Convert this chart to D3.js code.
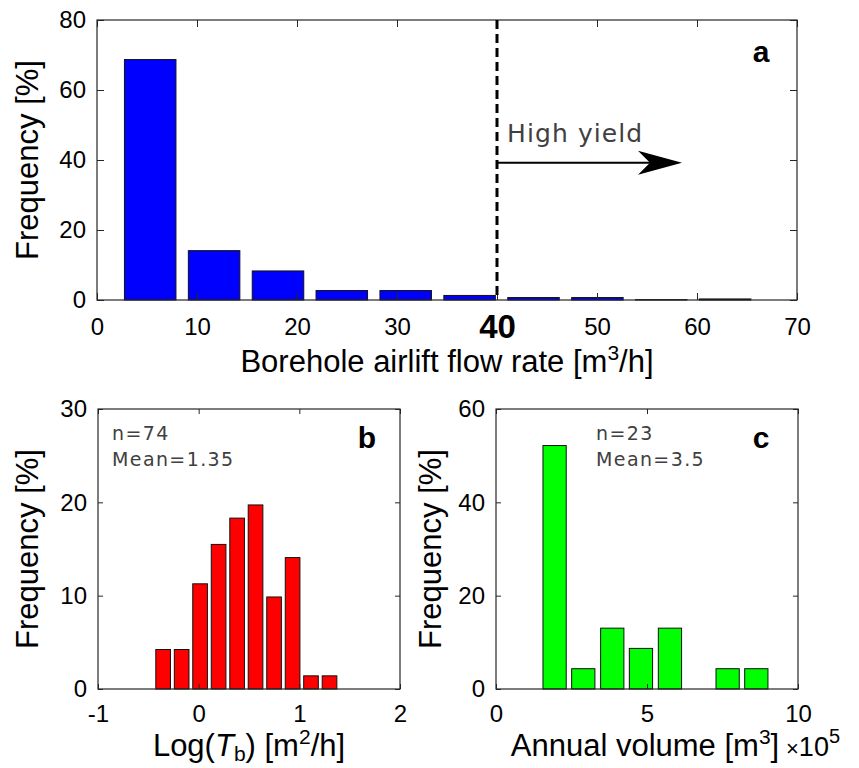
<!DOCTYPE html>
<html>
<head>
<meta charset="utf-8">
<script src="https://cdn.jsdelivr.net/npm/d3@7"></script>
<style>
  body { margin: 0; background: #fff; }
  svg text { font-family: "Liberation Sans", Arial, Helvetica, sans-serif; }
  .note { font-family: "DejaVu Sans", Verdana, sans-serif !important; fill: #404040; }
</style>
</head>
<body>
<svg id="fig" width="859" height="768"></svg>
<script>
// ---- Panel a: borehole airlift flow rate (m3/h) ----
const flowBinCenters = [5.32, 11.71, 18.10, 24.48, 30.87, 37.26, 43.65, 50.04, 56.42, 62.81];
const flowFreq = [68.7, 14.1, 8.3, 2.7, 2.7, 1.3, 0.7, 0.7, 0.1, 0.3];
const flowBarWidth = 5.15;
const flowTicksX = [0, 10, 20, 30, 40, 50, 60, 70];
const flowTicksY = [0, 20, 40, 60, 80];
const highYieldThreshold = 40;
const highYieldArrowEnd = 58.5;
const highYieldArrowLevel = 39.2;
const highYieldLabel = "High yield";

// ---- Panel b: log transmissivity (m2/h) ----
const logTbBinCenters = [-0.353, -0.169, 0.014, 0.198, 0.382, 0.565, 0.749, 0.933, 1.116, 1.300];
const logTbFreq = [4.23, 4.23, 11.27, 15.49, 18.31, 19.72, 9.86, 14.08, 1.41, 1.41];
const logTbBarWidth = 0.1455;
const logTbTicksX = [-1, 0, 1, 2];
const logTbTicksY = [0, 10, 20, 30];
const logTbStats = ["n=74", "Mean=1.35"];

// ---- Panel c: annual volume (x1e5 m3) ----
const volumeBinCenters = [1.94, 2.89, 3.85, 4.80, 5.76, 6.71, 7.67, 8.62];
const volumeFreq = [52.17, 4.35, 13.04, 8.70, 13.04, 0, 4.35, 4.35];
const volumeBarWidth = 0.77;
const volumeTicksX = [0, 5, 10];
const volumeTicksY = [0, 20, 40, 60];
const volumeStats = ["n=23", "Mean=3.5"];

const svg = d3.select("#fig");
const AXIS_COLOR = "#262626";
const plainNumber = d => String(d);   // keeps the ASCII hyphen for negatives

function drawPanel(p) {
  const x = d3.scaleLinear().domain(p.xDomain).range([p.left, p.right]);
  const y = d3.scaleLinear().domain(p.yDomain).range([p.bottom, p.top]);
  const g = svg.append("g");

  // bars
  g.selectAll("rect.bar")
    .data(p.centers.map((c, i) => ({ c, v: p.values[i] })))
    .join("rect")
    .attr("class", "bar")
    .attr("x", d => x(d.c - p.barWidth / 2))
    .attr("width", d => x(d.c + p.barWidth / 2) - x(d.c - p.barWidth / 2))
    .attr("y", d => y(d.v))
    .attr("height", d => y(0) - y(d.v))
    .attr("fill", p.color)
    .attr("stroke", "#111")
    .attr("stroke-width", 1);

  const styleAxis = sel => {
    sel.select(".domain").remove();
    sel.selectAll(".tick line").attr("stroke", AXIS_COLOR).attr("stroke-width", 1);
    sel.selectAll(".tick text").attr("fill", "#000").attr("font-size", 24)
      .attr("font-family", "'Liberation Sans', Arial, sans-serif");
  };

  // bottom axis with labels, inward ticks
  const bottom = g.append("g").attr("transform", `translate(0,${p.bottom})`)
    .call(d3.axisBottom(x).tickValues(p.ticksX).tickFormat(plainNumber)
      .tickSizeInner(-p.tickLen).tickSizeOuter(0).tickPadding(p.xTickPad))
    .call(styleAxis);
  // left axis with labels
  g.append("g").attr("transform", `translate(${p.left},0)`)
    .call(d3.axisLeft(y).tickValues(p.ticksY).tickFormat(plainNumber)
      .tickSizeInner(-p.tickLen).tickSizeOuter(0).tickPadding(11))
    .call(styleAxis);
  // top and right mirror ticks
  g.append("g").attr("transform", `translate(0,${p.top})`)
    .call(d3.axisTop(x).tickValues(p.ticksX).tickFormat("")
      .tickSizeInner(-p.tickLen).tickSizeOuter(0))
    .call(styleAxis);
  g.append("g").attr("transform", `translate(${p.right},0)`)
    .call(d3.axisRight(y).tickValues(p.ticksY).tickFormat("")
      .tickSizeInner(-p.tickLen).tickSizeOuter(0))
    .call(styleAxis);

  // axes box
  g.append("rect")
    .attr("x", p.left).attr("y", p.top)
    .attr("width", p.right - p.left).attr("height", p.bottom - p.top)
    .attr("fill", "none").attr("stroke", AXIS_COLOR).attr("stroke-width", 1.2);

  // y label
  g.append("text")
    .attr("transform", `translate(${p.yLabelX},${(p.top + p.bottom) / 2}) rotate(-90)`)
    .attr("text-anchor", "middle")
    .attr("font-size", 31)
    .attr("fill", "#000")
    .text("Frequency [%]");

  // panel letter
  g.append("text")
    .attr("x", p.letterX).attr("y", p.letterY)
    .attr("text-anchor", "middle")
    .attr("font-size", 30).attr("font-weight", "bold").attr("fill", "#000")
    .text(p.letter);

  return { g, x, y, bottomAxis: bottom };
}

// ---------- Panel a ----------
const A = drawPanel({
  left: 97, right: 797, top: 20, bottom: 300, tickLen: 7, xTickPad: 18,
  xDomain: [0, 70], yDomain: [0, 80],
  ticksX: flowTicksX, ticksY: flowTicksY,
  centers: flowBinCenters, values: flowFreq, barWidth: flowBarWidth,
  color: "#0000ff", yLabelX: 38, letter: "a", letterX: 761, letterY: 62
});

// emphasise the high-yield threshold tick
A.bottomAxis.selectAll(".tick text")
  .filter(d => d === highYieldThreshold)
  .attr("font-weight", "bold").attr("font-size", 33).attr("dy", "0.6em");

// threshold line
A.g.append("line")
  .attr("x1", A.x(highYieldThreshold)).attr("x2", A.x(highYieldThreshold))
  .attr("y1", A.y(80)).attr("y2", A.y(0))
  .attr("stroke", "#000").attr("stroke-width", 3)
  .attr("stroke-dasharray", "9,5");

// arrow pointing to the high-yield range
{
  const x0 = A.x(highYieldThreshold), x1 = A.x(highYieldArrowEnd), yy = A.y(highYieldArrowLevel);
  const L = 44, W = 12, notch = 12;
  A.g.append("line")
    .attr("x1", x0).attr("x2", x1 - L + notch).attr("y1", yy).attr("y2", yy)
    .attr("stroke", "#000").attr("stroke-width", 2);
  A.g.append("path")
    .attr("d", `M${x1},${yy} L${x1 - L},${yy - W} L${x1 - L + notch},${yy} L${x1 - L},${yy + W} Z`)
    .attr("fill", "#000");
  A.g.append("text")
    .attr("class", "note")
    .attr("x", A.x(highYieldThreshold + 1.0)).attr("y", yy - 21)
    .attr("font-size", 25).attr("letter-spacing", 1.1)
    .text(highYieldLabel);
}

// x label
A.g.append("text")
  .attr("x", (97 + 797) / 2).attr("y", 372)
  .attr("text-anchor", "middle").attr("font-size", 31).attr("fill", "#000")
  .call(t => {
    t.append("tspan").text("Borehole airlift flow rate [m");
    t.append("tspan").attr("font-size", 21).attr("dy", -12).text("3");
    t.append("tspan").attr("dy", 12).text("/h]");
  });

// ---------- Panel b ----------
const B = drawPanel({
  left: 98, right: 400, top: 409, bottom: 689, tickLen: 5, xTickPad: 16,
  xDomain: [-1, 2], yDomain: [0, 30],
  ticksX: logTbTicksX, ticksY: logTbTicksY,
  centers: logTbBinCenters, values: logTbFreq, barWidth: logTbBarWidth,
  color: "#ff0000", yLabelX: 38, letter: "b", letterX: 367, letterY: 448
});
B.g.selectAll("text.stat").data(logTbStats).join("text")
  .attr("class", "note stat")
  .attr("x", 112).attr("y", (d, i) => 440 + i * 26)
  .attr("font-size", 19).attr("letter-spacing", 1.4)
  .text(d => d);
B.g.append("text")
  .attr("x", (98 + 400) / 2).attr("y", 756)
  .attr("text-anchor", "middle").attr("font-size", 31).attr("fill", "#000")
  .call(t => {
    t.append("tspan").text("Log(");
    t.append("tspan").attr("font-style", "italic").text("T");
    t.append("tspan").attr("font-size", 21).attr("dy", 5).text("b");
    t.append("tspan").attr("dy", -5).text(") [m");
    t.append("tspan").attr("font-size", 21).attr("dy", -12).text("2");
    t.append("tspan").attr("dy", 12).text("/h]");
  });

// ---------- Panel c ----------
const C = drawPanel({
  left: 496, right: 798, top: 409, bottom: 689, tickLen: 5, xTickPad: 16,
  xDomain: [0, 10], yDomain: [0, 60],
  ticksX: volumeTicksX, ticksY: volumeTicksY,
  centers: volumeBinCenters, values: volumeFreq, barWidth: volumeBarWidth,
  color: "#00ff00", yLabelX: 441, letter: "c", letterX: 761, letterY: 448
});
C.g.selectAll("text.stat").data(volumeStats).join("text")
  .attr("class", "note stat")
  .attr("x", 596).attr("y", (d, i) => 440 + i * 26)
  .attr("font-size", 19).attr("letter-spacing", 1.4)
  .text(d => d);
C.g.append("text")
  .attr("x", (496 + 798) / 2 - 2).attr("y", 756)
  .attr("text-anchor", "middle").attr("font-size", 31).attr("fill", "#000")
  .call(t => {
    t.append("tspan").text("Annual volume [m");
    t.append("tspan").attr("font-size", 21).attr("dy", -12).text("3");
    t.append("tspan").attr("dy", 12).text("]");
  });
// axis exponent
C.g.append("text")
  .attr("x", 786).attr("y", 756)
  .attr("font-size", 27).attr("fill", "#000")
  .call(t => {
    t.append("tspan").attr("font-size", 22).text("\u00d7");
    t.append("tspan").text("10");
    t.append("tspan").attr("font-size", 20).attr("dy", -13).text("5");
  });
</script>
</body>
</html>
